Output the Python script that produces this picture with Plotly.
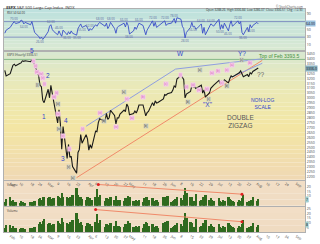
import plotly.graph_objects as go
import pandas as pd

# ---------------- data ----------------
holidays = ["2020-02-17", "2020-04-10", "2020-05-25", "2020-07-03"]
trade_dates = [d.strftime("%Y-%m-%d") for d in pd.bdate_range("2020-01-30", "2020-08-04")
               if d.strftime("%Y-%m-%d") not in holidays]

close = [3283, 3225,
         3248, 3298, 3334, 3345, 3328, 3352, 3358, 3379, 3374, 3380, 3370, 3386, 3373, 3338, 3226, 3128, 3116, 2979, 2954,
         3090, 3003, 3130, 3024, 2972, 2747, 2882, 2741, 2481, 2711, 2386, 2529, 2398, 2409, 2305, 2237, 2447, 2476, 2630, 2541, 2627, 2585,
         2470, 2527, 2489, 2664, 2659, 2750, 2790, 2762, 2846, 2784, 2800, 2875, 2823, 2737, 2799, 2798, 2837, 2878, 2863, 2940, 2912,
         2831, 2843, 2868, 2848, 2882, 2930, 2930, 2870, 2820, 2852, 2864, 2954, 2923, 2972, 2949, 2955, 2992, 3036, 3030, 3044,
         3056, 3081, 3123, 3112, 3194, 3232, 3207, 3190, 3002, 3041, 3067, 3125, 3113, 3115, 3098, 3118, 3131, 3051, 3084, 3009, 3053, 3100,
         3116, 3130, 3180, 3145, 3169, 3152, 3185, 3155, 3197, 3227, 3216, 3225, 3251, 3257, 3276, 3236, 3216, 3239, 3218, 3258, 3246, 3271,
         3294, 3306]

rsi = [40, 48,
       55, 62, 66, 70, 65, 68, 74, 72, 64, 68, 62, 70, 55, 42, 32, 26, 30, 24, 28,
       44, 58, 62, 50, 45, 36, 46, 38, 32, 48, 36, 44, 38, 46, 40, 35, 52, 58, 64, 55, 60, 54,
       46, 52, 48, 62, 58, 64, 68, 58, 66, 52, 58, 68, 52, 40, 55, 58, 60, 66, 56, 68, 60,
       38, 46, 56, 50, 58, 66, 60, 46, 36, 48, 54, 72, 58, 68, 55, 58, 68, 72, 60, 64,
       66, 74, 78, 66, 80, 76, 58, 52, 28, 42, 55, 68, 56, 58, 50, 60, 64, 40, 55, 36, 56, 64,
       62, 58, 76, 50, 62, 52, 66, 46, 62, 72, 58, 62, 72, 64, 70, 42, 36, 55, 44, 62, 54, 60,
       68, 64]

vol_a = [4, 7,
         9, 5, 6, 4, 4, 3, 5, 4, 3, 3, 4, 3, 4, 5, 7, 8, 6, 9, 10,
         8, 9, 7, 6, 8, 11, 9, 8, 14, 10, 9, 8, 10, 7, 12, 19, 12, 9, 10, 7, 6, 9,
         7, 8, 6, 10, 18, 9, 12, 5, 8, 6, 7, 9, 6, 11, 5, 6, 6, 5, 8, 7, 11,
         9, 5, 5, 6, 5, 6, 4, 8, 10, 9, 6, 8, 5, 4, 6, 4, 9, 10, 8, 11,
         4, 5, 6, 7, 9, 8, 6, 12, 19, 14, 10, 9, 5, 5, 13, 5, 6, 9, 7, 12, 6, 8,
         6, 5, 8, 5, 4, 6, 5, 9, 7, 6, 5, 4, 4, 6, 5, 8, 12, 4, 5, 5, 6, 9,
         5, 7]

vol_b = [5, 8,
         8, 5, 7, 4, 4, 3, 4, 4, 3, 3, 4, 3, 5, 6, 9, 11, 9, 12, 14,
         9, 10, 8, 7, 9, 12, 10, 9, 15, 11, 10, 9, 11, 8, 13, 21, 14, 10, 11, 8, 7, 10,
         8, 9, 7, 11, 19, 10, 13, 6, 9, 7, 8, 10, 7, 12, 6, 7, 6, 6, 9, 8, 12,
         10, 6, 6, 7, 6, 7, 5, 9, 11, 10, 7, 9, 6, 5, 7, 5, 10, 11, 9, 12,
         5, 6, 7, 8, 10, 9, 7, 13, 21, 15, 11, 10, 6, 6, 14, 6, 7, 10, 8, 13, 7, 9,
         7, 6, 9, 6, 5, 7, 6, 10, 8, 7, 6, 5, 5, 7, 6, 9, 13, 5, 6, 6, 7, 10,
         6, 8]

assert len(close) == len(trade_dates) == len(rsi) == len(vol_a) == len(vol_b)

x_range = ["2020-01-29 10:00", "2020-09-07 12:00"]
tick_dates = ["2020-02-03", "2020-02-10", "2020-02-18", "2020-02-24", "2020-03-02", "2020-03-09",
              "2020-03-16", "2020-03-23", "2020-04-01", "2020-04-06", "2020-04-13", "2020-04-20",
              "2020-04-27", "2020-05-01", "2020-05-11", "2020-05-18", "2020-05-26", "2020-06-01",
              "2020-06-08", "2020-06-15", "2020-06-22", "2020-06-29", "2020-07-06", "2020-07-13",
              "2020-07-20", "2020-07-27", "2020-08-03", "2020-08-10", "2020-08-17", "2020-08-24",
              "2020-09-01"]
tick_labels = ["Feb", "10", "18", "24", "Mar", "9", "16", "23", "Apr", "6", "13", "20", "27", "May",
               "11", "18", "26", "Jun", "8", "15", "22", "29", "Jul", "13", "20", "27", "Aug", "10",
               "17", "24", "Sep"]
price_ticks = [2200, 2250, 2300, 2350, 2400, 2450, 2500, 2550, 2600, 2650, 2700, 2750, 2800, 2850,
               2900, 2950, 3000, 3050, 3100, 3150, 3200, 3250, 3350, 3400, 3450]
rsi_ticks = [10, 30, 50, 90]

top_level = 3393.5
orange_dates = ["2020-03-23", "2020-08-07"]
orange_vals = [2191, 3384]
blue_dates = ["2020-03-30", "2020-06-04", "2020-08-07"]
blue_vals = [2714, 3295, 3400]
blue2_dates = ["2020-07-14", "2020-08-07"]
blue2_vals = [3206, 3354]
va_line_dates = ["2020-04-08", "2020-07-23"]
va_line_vals = [22, 12]
vb_line_dates = ["2020-04-06", "2020-07-23"]
vb_line_vals = [24, 11]

pink_text = ["(i)", "(ii)", "(iii)", "(iv)", "(v)", "(i)", "(ii)", "(iii)", "(iv)", "(v)", "(i)",
             "(ii)", "(iii)", "(iv)", "(v)", "(a)", "(b)", "(c)", "(i)", "(ii)", "(iii)", "(iv)",
             "(v)", "(a)", "(b)", "(c)", "(x)", "(a)", "(b)"]
pink_dates = ["2020-02-20", "2020-02-22", "2020-02-23", "2020-02-26", "2020-02-27", "2020-02-28",
              "2020-03-08", "2020-03-06", "2020-03-09", "2020-03-13", "2020-03-18", "2020-03-27",
              "2020-04-09", "2020-04-21", "2020-04-29", "2020-05-03", "2020-05-11", "2020-05-28",
              "2020-06-08", "2020-06-12", "2020-06-17", "2020-06-21", "2020-06-27", "2020-07-01",
              "2020-07-05", "2020-07-08", "2020-07-12", "2020-07-16", "2020-07-29"]
pink_prices = [3374, 3325, 3265, 3246, 3206, 3147, 3049, 3009, 2842, 2615, 2487, 2684, 2852, 2704,
               2990, 2793, 3009, 3147, 3236, 3108, 3137, 3078, 3088, 3256, 3275, 3157, 3285, 3334, 3354]

gray_text = ["[i]", "[iii]", "[iv]", "[v]", "[a]", "[b]", "[a]", "[b]", "[b]", "[c]", "[a]", "[b]", "[c]"]
gray_dates = ["2020-02-23", "2020-03-09", "2020-03-10", "2020-03-17", "2020-03-20", "2020-04-12",
              "2020-04-27", "2020-05-13", "2020-06-13", "2020-06-28", "2020-06-22", "2020-07-12",
              "2020-07-23"]
gray_prices = [3137, 2940, 2690, 2300, 2192, 2763, 3059, 2714, 2960, 2990, 3285, 3118, 3384]

wave_text = ["(5)", "5", "1", "2", "3", "4", "(1)", "W", "(2)", "Y?", "\"X\"", "??"]
wave_dates = ["2020-02-19", "2020-02-19", "2020-02-28", "2020-03-02", "2020-03-13", "2020-03-15",
              "2020-03-28", "2020-06-08", "2020-07-23", "2020-07-23", "2020-06-28", "2020-08-06"]
wave_prices = [3541, 3482, 2812, 3226, 2389, 2770, 2103, 3453, 3512, 3453, 2931, 3236]
wave_colors = ["#e03a3a", "#3344cc", "#3344cc", "#3344cc", "#3344cc", "#3344cc", "#e03a3a",
               "#3344cc", "#e03a3a", "#3344cc", "#3344cc", "#666666"]

# ---------------- figure ----------------
W, H = 320, 244
mt, mb = 9, 5
ph = H - mt - mb


def dom(ytop, ybot):
    return [(H - mb - ybot) / ph, (H - mb - ytop) / ph]


d_rsi = dom(9, 52)
d_main = dom(52, 185)
d_va = dom(186, 212)
d_vb = dom(213, 239)

fig = go.Figure()


def hexrgb(h):
    h = h.lstrip("#")
    return [int(h[i:i + 2], 16) for i in (0, 2, 4)]


def grad(stops, t):
    for (t0, c0), (t1, c1) in zip(stops[:-1], stops[1:]):
        if t0 <= t <= t1:
            f = (t - t0) / (t1 - t0) if t1 > t0 else 0
            a, b = hexrgb(c0), hexrgb(c1)
            return "rgb(%d,%d,%d)" % tuple(round(a[k] + (b[k] - a[k]) * f) for k in range(3))
    return stops[-1][1]


shapes = []


def bands(domain, stops, n=24):
    y0, y1 = domain
    for i in range(n):
        t = (i + 0.5) / n
        shapes.append(dict(type="rect", xref="paper", yref="paper", x0=0, x1=1,
                           y1=y1 - (y1 - y0) * i / n, y0=y1 - (y1 - y0) * (i + 1) / n,
                           fillcolor=grad(stops, t), line=dict(width=0), layer="below"))


bands(d_rsi, [(0, "#bde1de"), (1, "#d9e9d2")], 12)
bands(d_main, [(0, "#d8e8d1"), (0.3, "#ebe9b6"), (0.6, "#f3e6a3"), (1, "#f0d8b4")], 30)
bands(d_va, [(0, "#f2dfc7"), (1, "#efdac0")], 4)
bands(d_vb, [(0, "#f2dfc7"), (1, "#efdac0")], 4)

# RSI panel
for lvl in (70, 30):
    fig.add_trace(go.Scatter(x=x_range, y=[lvl, lvl], mode="lines", xaxis="x", yaxis="y",
                             line=dict(color="#8090c0", width=1), hoverinfo="skip", showlegend=False))
fig.add_trace(go.Scatter(x=trade_dates, y=rsi, mode="lines", xaxis="x", yaxis="y",
                         line=dict(color="#3a4ec8", width=0.9), showlegend=False))

# main panel
fig.add_trace(go.Scatter(x=x_range, y=[top_level, top_level], mode="lines", xaxis="x2", yaxis="y2",
                         line=dict(color="#86b886", width=1), showlegend=False))
fig.add_trace(go.Scatter(x=orange_dates, y=orange_vals, mode="lines", xaxis="x2", yaxis="y2",
                         line=dict(color="#f08a6a", width=1), showlegend=False))
fig.add_trace(go.Scatter(x=blue_dates, y=blue_vals, mode="lines", xaxis="x2", yaxis="y2",
                         line=dict(color="#8f9ee0", width=1), showlegend=False))
fig.add_trace(go.Scatter(x=blue2_dates, y=blue2_vals, mode="lines", xaxis="x2", yaxis="y2",
                         line=dict(color="#8f9ee0", width=1), showlegend=False))
fig.add_trace(go.Scatter(x=trade_dates, y=close, mode="lines", xaxis="x2", yaxis="y2",
                         line=dict(color="#1a1a1a", width=1.1), showlegend=False))

# volume panels
day = 86400000
fig.add_trace(go.Bar(x=trade_dates, y=vol_a, xaxis="x3", yaxis="y3", width=day * 1.7,
                     marker=dict(color="#2f6a1e", line=dict(width=0)), showlegend=False))
fig.add_trace(go.Bar(x=trade_dates, y=vol_b, xaxis="x4", yaxis="y4", width=day * 1.7,
                     marker=dict(color="#2f6a1e", line=dict(width=0)), showlegend=False))
fig.add_trace(go.Scatter(x=va_line_dates, y=va_line_vals, mode="lines+markers", xaxis="x3", yaxis="y3",
                         line=dict(color="#f08a6a", width=1), marker=dict(color="#e02020", size=3),
                         showlegend=False))
fig.add_trace(go.Scatter(x=vb_line_dates, y=vb_line_vals, mode="lines+markers", xaxis="x4", yaxis="y4",
                         line=dict(color="#f08a6a", width=1), marker=dict(color="#e02020", size=3),
                         showlegend=False))

ann = []
# RSI value labels at well-spaced local extremes
last_i = -10
for i in range(1, len(rsi) - 1):
    is_max = rsi[i] > rsi[i - 1] and rsi[i] > rsi[i + 1]
    is_min = rsi[i] < rsi[i - 1] and rsi[i] < rsi[i + 1]
    if (is_max or is_min) and i - last_i >= 4:
        ann.append(dict(x=trade_dates[i], y=rsi[i], xref="x", yref="y", text="%.2f" % rsi[i],
                        showarrow=False, yshift=3 if is_max else -3, font=dict(size=3, color="#5566a0")))
        last_i = i

for t, d, p in zip(pink_text, pink_dates, pink_prices):
    ann.append(dict(x=d, y=p, xref="x2", yref="y2", text=t, showarrow=False, bgcolor="#f7cdea",
                    borderpad=0, font=dict(size=3, color="#d060b0", family="Arial")))
for t, d, p in zip(gray_text, gray_dates, gray_prices):
    ann.append(dict(x=d, y=p, xref="x2", yref="y2", text=t, showarrow=False, bgcolor="rgba(205,208,195,0.8)",
                    borderpad=0, font=dict(size=3, color="#444444", family="Arial")))
for t, d, p, c in zip(wave_text, wave_dates, wave_prices, wave_colors):
    ann.append(dict(x=d, y=p, xref="x2", yref="y2", text=t, showarrow=False,
                    font=dict(size=6.5, color=c, family="Arial")))

ann.append(dict(x="2020-08-03", y=3433, xref="x2", yref="y2", xanchor="left", text="Top of Feb 3393.5",
                showarrow=False, font=dict(size=5, color="#3f8f3f", family="Arial")))
ann.append(dict(x="2020-07-22", y=2758, xref="x2", yref="y2", text="DOUBLE<br>ZIGZAG",
                showarrow=False, font=dict(size=6.5, color="#555555", family="Arial")))
ann.append(dict(x="2020-08-07", y=2945, xref="x2", yref="y2", text="NON-LOG<br>SCALE",
                showarrow=False, font=dict(size=5, color="#3344cc", family="Arial")))

# last value boxes on right axes
ann.append(dict(x=1.0, xref="paper", y=close[-1], yref="y2", xanchor="left", text="%.1f" % close[-1],
                showarrow=False, bgcolor="#86aebd", borderpad=0, font=dict(size=3.5, color="#1a1a1a")))
ann.append(dict(x=1.0, xref="paper", y=rsi[-1], yref="y", xanchor="left", text="%.2f" % rsi[-1],
                showarrow=False, bgcolor="#9cc3e0", borderpad=0, font=dict(size=3.5, color="#1a1a1a")))
ann.append(dict(x=1.0, xref="paper", y=vol_a[-1], yref="y3", xanchor="left", text="%d" % vol_a[-1],
                showarrow=False, bgcolor="#9fd0d0", borderpad=0, font=dict(size=3.5, color="#1a1a1a")))
ann.append(dict(x=1.0, xref="paper", y=vol_b[-1], yref="y4", xanchor="left", text="%d" % vol_b[-1],
                showarrow=False, bgcolor="#9fd0d0", borderpad=0, font=dict(size=3.5, color="#1a1a1a")))

# headers
ann.append(dict(x=0, xref="paper", y=(H - mb - 3) / ph, yref="paper", xanchor="left",
                text="<b>$SPX</b> S&P 500 Large Cap Index  INDX", showarrow=False,
                font=dict(size=4, color="#333333")))
ann.append(dict(x=1, xref="paper", y=(H - mb - 2) / ph, yref="paper", xanchor="right",
                text="© StockCharts.com", showarrow=False, font=dict(size=3, color="#555555")))
ann.append(dict(x=1, xref="paper", y=(H - mb - 6) / ph, yref="paper", xanchor="right",
                text="Open 3288.26  High 3306.84  Low 3286.37  Close 3306.51  Chg +12.90", showarrow=False,
                font=dict(size=3, color="#333333")))
ann.append(dict(x=0.003, xref="paper", y=d_rsi[1], yref="paper", xanchor="left", yanchor="top",
                text="RSI(14) 64.00", showarrow=False, font=dict(size=3, color="#333333")))
ann.append(dict(x=0.003, xref="paper", y=d_main[1], yref="paper", xanchor="left", yanchor="top",
                text="$SPX (Hourly) 3306.51", showarrow=False, font=dict(size=3, color="#333333")))
ann.append(dict(x=0.003, xref="paper", y=d_va[1], yref="paper", xanchor="left", yanchor="top",
                text="Volume", showarrow=False, font=dict(size=3, color="#333333")))
ann.append(dict(x=0.003, xref="paper", y=d_vb[1], yref="paper", xanchor="left", yanchor="top",
                text="Volume", showarrow=False, font=dict(size=3, color="#333333")))

axis_common = dict(range=x_range, type="date", showgrid=False, zeroline=False, showline=True,
                   mirror=True, linecolor="#b0b0b0", linewidth=1, ticks="", fixedrange=True)
yax_common = dict(side="right", showgrid=False, zeroline=False, showline=True, mirror=True,
                  linecolor="#b0b0b0", linewidth=1, ticks="", tickfont=dict(size=3.5, color="#444444"))

fig.update_layout(
    width=W, height=H,
    margin=dict(l=3, r=15, t=mt, b=mb),
    paper_bgcolor="white", plot_bgcolor="rgba(0,0,0,0)",
    showlegend=False, bargap=0,
    shapes=shapes, annotations=ann,
    xaxis=dict(axis_common, anchor="y", showticklabels=False),
    xaxis2=dict(axis_common, anchor="y2", showticklabels=True, tickvals=tick_dates, ticktext=tick_labels,
                tickfont=dict(size=3.5, color="#444444"), ticklabelstandoff=0),
    xaxis3=dict(axis_common, anchor="y3", showticklabels=False),
    xaxis4=dict(axis_common, anchor="y4", showticklabels=True, tickvals=tick_dates, ticktext=tick_labels,
                tickfont=dict(size=3.5, color="#444444")),
    yaxis=dict(yax_common, domain=d_rsi, range=[-5, 102.5], tickvals=rsi_ticks),
    yaxis2=dict(yax_common, domain=d_main, range=[2171, 3482], tickvals=price_ticks),
    yaxis3=dict(yax_common, domain=d_va, range=[0, 26], tickvals=[5, 10, 15, 20]),
    yaxis4=dict(yax_common, domain=d_vb, range=[0, 27], tickvals=[5, 10, 15, 20, 25]),
)

fig.write_html("out.html")
